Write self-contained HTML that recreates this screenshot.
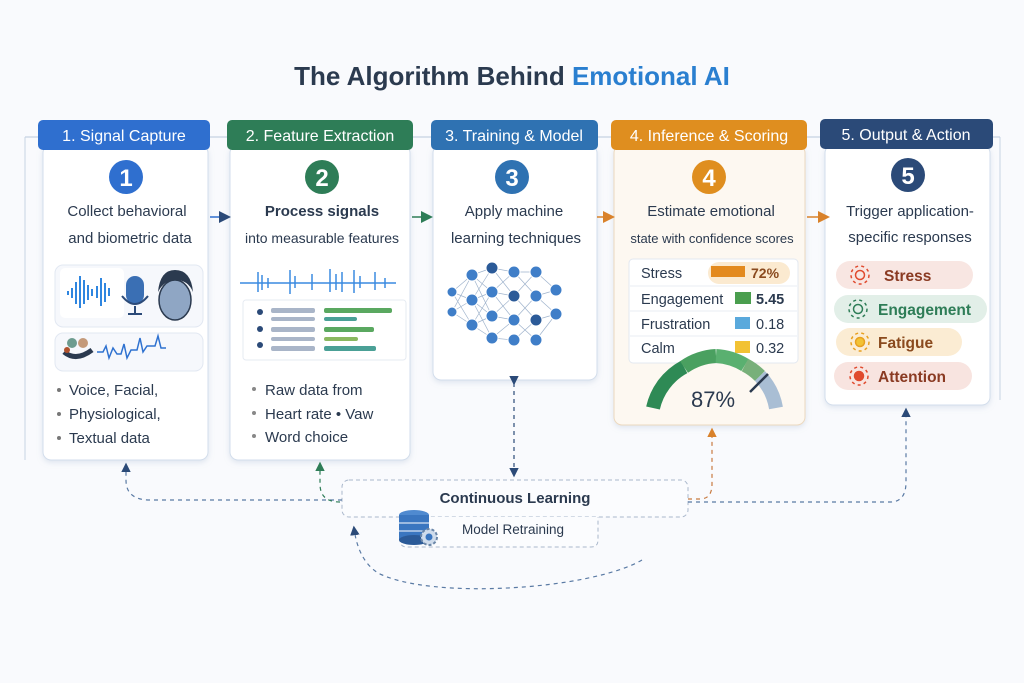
<!DOCTYPE html>
<html><head><meta charset="utf-8"><style>
body{margin:0;background:#f9fafd;}
svg{display:block;font-family:"Liberation Sans","DejaVu Sans",sans-serif;}
</style></head><body>
<svg width="1024" height="683" viewBox="0 0 1024 683" xmlns="http://www.w3.org/2000/svg">
<defs>
<marker id="ab" markerWidth="8" markerHeight="8" refX="6" refY="4" orient="auto"><path d="M0,0 L8,4 L0,8z" fill="#2b4a78"/></marker>
<marker id="ao" markerWidth="8" markerHeight="8" refX="6" refY="4" orient="auto"><path d="M0,0 L8,4 L0,8z" fill="#d9822b"/></marker>
<marker id="ag" markerWidth="8" markerHeight="8" refX="6" refY="4" orient="auto"><path d="M0,0 L8,4 L0,8z" fill="#2e7d57"/></marker>
<filter id="sh" x="-10%" y="-10%" width="120%" height="120%"><feDropShadow dx="0" dy="2" stdDeviation="3" flood-color="#8aa0c0" flood-opacity="0.25"/></filter>
</defs>
<rect width="1024" height="683" fill="#f9fafd"/>
<text x="512" y="85" text-anchor="middle" font-size="26" font-weight="bold" fill="#2b3a4f">The Algorithm Behind <tspan fill="#2a7fd0">Emotional AI</tspan></text>
<line x1="25" y1="137" x2="1000" y2="137" stroke="#b9c8dc" stroke-width="1"/>
<line x1="25" y1="137" x2="25" y2="460" stroke="#c8d4e4" stroke-width="1"/>
<line x1="1000" y1="137" x2="1000" y2="400" stroke="#c8d4e4" stroke-width="1"/>

<rect x="43" y="145" width="165" height="315" rx="8" fill="#fff" stroke="#d3deec" filter="url(#sh)"/>
<rect x="230" y="145" width="180" height="315" rx="8" fill="#fff" stroke="#d3deec" filter="url(#sh)"/>
<rect x="433" y="145" width="164" height="235" rx="8" fill="#fff" stroke="#d3deec" filter="url(#sh)"/>
<rect x="614" y="145" width="191" height="280" rx="8" fill="#fdf8f1" stroke="#ecd9bf" filter="url(#sh)"/>
<rect x="825" y="145" width="165" height="260" rx="8" fill="#fff" stroke="#d3deec" filter="url(#sh)"/>

<rect x="38" y="120" width="172" height="30" rx="5" fill="#2f6fcf"/>
<text x="124" y="141" text-anchor="middle" font-size="16" fill="#fff">1. Signal Capture</text>
<rect x="227" y="120" width="186" height="30" rx="5" fill="#2e7d57"/>
<text x="320" y="141" text-anchor="middle" font-size="16" fill="#fff">2. Feature Extraction</text>
<rect x="431" y="120" width="167" height="30" rx="5" fill="#2f72b2"/>
<text x="514" y="141" text-anchor="middle" font-size="16" fill="#fff">3. Training &amp; Model</text>
<rect x="611" y="120" width="196" height="30" rx="5" fill="#df8e1f"/>
<text x="709" y="141" text-anchor="middle" font-size="16" fill="#fff">4. Inference &amp; Scoring</text>
<rect x="820" y="119" width="173" height="30" rx="5" fill="#2b4a78"/>
<text x="906" y="140" text-anchor="middle" font-size="16" fill="#fff">5. Output &amp; Action</text>

<circle cx="126" cy="177" r="17" fill="#2f6fcf"/><text x="126" y="186" text-anchor="middle" font-size="24" font-weight="bold" fill="#fff">1</text>
<circle cx="322" cy="177" r="17" fill="#2e7d57"/><text x="322" y="186" text-anchor="middle" font-size="24" font-weight="bold" fill="#fff">2</text>
<circle cx="512" cy="177" r="17" fill="#2f72b2"/><text x="512" y="186" text-anchor="middle" font-size="24" font-weight="bold" fill="#fff">3</text>
<circle cx="709" cy="177" r="17" fill="#df8e1f"/><text x="709" y="186" text-anchor="middle" font-size="24" font-weight="bold" fill="#fff">4</text>
<circle cx="908" cy="175" r="17" fill="#2b4a78"/><text x="908" y="184" text-anchor="middle" font-size="24" font-weight="bold" fill="#fff">5</text>

<g font-size="15" fill="#2b3a4f" text-anchor="middle">
<text x="127" y="216">Collect behavioral</text><text x="130" y="243">and biometric data</text>
<text x="322" y="216" font-weight="bold">Process signals</text><text x="322" y="243" font-size="14">into measurable features</text>
<text x="514" y="216">Apply machine</text><text x="516" y="243">learning techniques</text>
<text x="711" y="216">Estimate emotional</text><text x="712" y="243" font-size="13">state with confidence scores</text>
<text x="910" y="216">Trigger application-</text><text x="910" y="242">specific responses</text>
</g>

<line x1="210" y1="217" x2="228" y2="217" stroke="#2f6fcf" stroke-width="1.5" marker-end="url(#ab)"/>
<line x1="412" y1="217" x2="430" y2="217" stroke="#2e7d57" stroke-width="1.5" marker-end="url(#ag)"/>
<line x1="597" y1="217" x2="612" y2="217" stroke="#d9822b" stroke-width="1.5" marker-end="url(#ao)"/>
<line x1="807" y1="217" x2="827" y2="217" stroke="#d9822b" stroke-width="1.5" marker-end="url(#ao)"/>

<rect x="55" y="265" width="148" height="62" rx="8" fill="#f6f8fc" stroke="#e2e8f2"/>
<rect x="60" y="268" width="64" height="50" rx="5" fill="#fff"/>
<g stroke="#2f86e0" stroke-width="2">
<line x1="68" y1="291" x2="68" y2="295"/><line x1="72" y1="288" x2="72" y2="298"/><line x1="76" y1="282" x2="76" y2="304"/><line x1="80" y1="276" x2="80" y2="308"/><line x1="84" y1="280" x2="84" y2="304"/><line x1="88" y1="285" x2="88" y2="300"/><line x1="92" y1="289" x2="92" y2="296"/><line x1="97" y1="286" x2="97" y2="298"/><line x1="101" y1="278" x2="101" y2="306"/><line x1="105" y1="283" x2="105" y2="302"/><line x1="109" y1="288" x2="109" y2="296"/>
</g>
<rect x="126" y="276" width="18" height="28" rx="9" fill="#3a6fb4"/>
<path d="M122 296 q13 16 26 0 M135 306 v8 M128 314 h14" stroke="#2b4a78" stroke-width="2" fill="none"/>
<ellipse cx="175" cy="300" rx="16" ry="20" fill="#8fa6c4" stroke="#2b3a4f" stroke-width="1.5"/>
<path d="M158 292 q2 -22 17 -22 q16 0 18 22 q-5 -12 -17 -12 q-12 0 -18 12z" fill="#2b3a4f"/>
<rect x="55" y="333" width="148" height="38" rx="8" fill="#f6f8fc" stroke="#e2e8f2"/>
<circle cx="72" cy="343" r="5" fill="#6d9c8f"/><circle cx="83" cy="343" r="5" fill="#c49a7a"/>
<path d="M64 352 q12 10 28 -2" stroke="#2b3a4f" stroke-width="5" fill="none"/>
<circle cx="67" cy="350" r="3" fill="#b0522d"/>
<path d="M97 352 h6 l3 -6 l3 12 l4 -10 l4 6 h4 l3 -10 l3 14 l4 -8 h6 l3 -12 l3 14 l4 -6 h8 l3 -10 l3 12 h5" stroke="#2f72d0" stroke-width="1.5" fill="none"/>
<g font-size="15" fill="#2b3a4f">
<circle cx="59" cy="390" r="2" fill="#777"/><text x="69" y="395">Voice, Facial,</text>
<circle cx="59" cy="414" r="2" fill="#777"/><text x="69" y="419">Physiological,</text>
<circle cx="59" cy="438" r="2" fill="#777"/><text x="69" y="443">Textual data</text>
</g>

<line x1="240" y1="283" x2="396" y2="283" stroke="#3a8ae0" stroke-width="1.5"/>
<g stroke="#3a8ae0" stroke-width="1.5">
<line x1="258" y1="272" x2="258" y2="292"/><line x1="262" y1="275" x2="262" y2="290"/><line x1="268" y1="278" x2="268" y2="288"/><line x1="290" y1="270" x2="290" y2="294"/><line x1="295" y1="276" x2="295" y2="288"/><line x1="312" y1="274" x2="312" y2="290"/><line x1="330" y1="269" x2="330" y2="292"/><line x1="336" y1="274" x2="336" y2="290"/><line x1="342" y1="272" x2="342" y2="292"/><line x1="354" y1="270" x2="354" y2="293"/><line x1="360" y1="276" x2="360" y2="288"/><line x1="375" y1="272" x2="375" y2="290"/><line x1="385" y1="278" x2="385" y2="288"/>
</g>
<rect x="243" y="300" width="163" height="60" rx="3" fill="#fff" stroke="#e6ebf2"/>
<g fill="#2b4a78"><circle cx="260" cy="312" r="3"/><circle cx="260" cy="329" r="3"/><circle cx="260" cy="345" r="3"/></g>
<g fill="#a9b5c8"><rect x="271" y="308" width="44" height="5" rx="2"/><rect x="271" y="317" width="44" height="4" rx="2"/><rect x="271" y="327" width="44" height="5" rx="2"/><rect x="271" y="337" width="44" height="4" rx="2"/><rect x="271" y="346" width="44" height="5" rx="2"/></g>
<g fill="#5aa860"><rect x="324" y="308" width="68" height="5" rx="2"/><rect x="324" y="317" width="33" height="4" rx="2" fill="#4aa096"/><rect x="324" y="327" width="50" height="5" rx="2"/><rect x="324" y="337" width="34" height="4" rx="2" fill="#8ab860"/><rect x="324" y="346" width="52" height="5" rx="2" fill="#4aa096"/></g>
<g font-size="15" fill="#2b3a4f">
<circle cx="254" cy="389" r="2" fill="#888"/><text x="265" y="395">Raw data from</text>
<circle cx="254" cy="413" r="2" fill="#888"/><text x="265" y="419">Heart rate • Vaw</text>
<circle cx="254" cy="436" r="2" fill="#888"/><text x="265" y="442">Word choice</text>
</g>

<g stroke="#9fb3cc" stroke-width="0.7">
<path d="M452 292 L472 275 L452 292 L472 300 L452 292 L472 325 M452 312 L472 275 M452 312 L472 300 M452 312 L472 325 M472 275 L492 268 M472 275 L492 292 M472 275 L492 316 M472 300 L492 268 M472 300 L492 292 M472 300 L492 316 M472 300 L492 338 M472 325 L492 292 M472 325 L492 316 M472 325 L492 338 M492 268 L514 272 M492 268 L514 296 M492 292 L514 272 M492 292 L514 296 M492 292 L514 320 M492 316 L514 296 M492 316 L514 320 M492 338 L514 320 M492 338 L514 340 M514 272 L536 272 M514 272 L536 296 M514 296 L536 272 M514 296 L536 320 M514 320 L536 296 M514 320 L536 340 M514 340 L536 320 M536 272 L556 290 M536 296 L556 290 M536 296 L556 314 M536 320 L556 314 M536 340 L556 314"/>
</g>
<g fill="#3f7ec8" stroke="#fff" stroke-width="1">
<circle cx="452" cy="292" r="5"/><circle cx="452" cy="312" r="5"/>
<circle cx="472" cy="275" r="6"/><circle cx="472" cy="300" r="6"/><circle cx="472" cy="325" r="6"/>
<circle cx="492" cy="268" r="6" fill="#2b5a98"/><circle cx="492" cy="292" r="6"/><circle cx="492" cy="316" r="6"/><circle cx="492" cy="338" r="6"/>
<circle cx="514" cy="272" r="6"/><circle cx="514" cy="296" r="6" fill="#2b5a98"/><circle cx="514" cy="320" r="6"/><circle cx="514" cy="340" r="6"/>
<circle cx="536" cy="272" r="6"/><circle cx="536" cy="296" r="6"/><circle cx="536" cy="320" r="6" fill="#2b5a98"/><circle cx="536" cy="340" r="6"/>
<circle cx="556" cy="290" r="6"/><circle cx="556" cy="314" r="6"/>
</g>

<rect x="629" y="259" width="169" height="104" rx="4" fill="#fff" stroke="#e3e8f0"/>
<rect x="708" y="262" width="82" height="22" rx="11" fill="#fbead0"/>
<g stroke="#e8edf3"><line x1="630" y1="286" x2="797" y2="286"/><line x1="630" y1="311" x2="797" y2="311"/><line x1="630" y1="336" x2="797" y2="336"/></g>
<g font-size="14.5" fill="#2b3a4f">
<text x="641" y="278">Stress</text><text x="641" y="304">Engagement</text><text x="641" y="329">Frustration</text><text x="641" y="353">Calm</text>
</g>
<rect x="711" y="266" width="34" height="11" fill="#e38a1e"/><text x="751" y="278" font-size="14" font-weight="bold" fill="#8a4a1e">72%</text>
<rect x="735" y="292" width="16" height="12" fill="#4a9e4e"/><text x="756" y="304" font-size="14.5" font-weight="bold" fill="#2b3a4f">5.45</text>
<rect x="735" y="317" width="15" height="12" fill="#5aa9dc"/><text x="756" y="329" font-size="14.5" fill="#2b3a4f">0.18</text>
<rect x="735" y="341" width="15" height="12" fill="#f2c234"/><text x="756" y="353" font-size="14.5" fill="#2b3a4f">0.32</text>
<path d="M653 408 A62 62 0 0 1 684 367" stroke="#2e8a55" stroke-width="14" fill="none"/>
<path d="M684 367 A62 62 0 0 1 716 356" stroke="#4aa060" stroke-width="14" fill="none"/>
<path d="M716 356 A62 62 0 0 1 745 365" stroke="#5ab070" stroke-width="14" fill="none"/>
<path d="M745 365 A62 62 0 0 1 760 376" stroke="#78b07a" stroke-width="14" fill="none"/>
<path d="M760 376 A62 62 0 0 1 776 408" stroke="#a9bed4" stroke-width="14" fill="none"/>
<line x1="750" y1="392" x2="768" y2="374" stroke="#2b3a4f" stroke-width="2.5"/>
<text x="713" y="407" text-anchor="middle" font-size="22" fill="#2b3a4f">87%</text>

<rect x="836" y="261" width="137" height="28" rx="14" fill="#f8e6e2"/>
<rect x="834" y="295" width="153" height="28" rx="14" fill="#e2efe8"/>
<rect x="836" y="328" width="126" height="28" rx="14" fill="#fbecd3"/>
<rect x="834" y="362" width="138" height="28" rx="14" fill="#f8e4e0"/>
<g stroke-width="1.5" fill="none">
<circle cx="860" cy="275" r="4.5" stroke="#e04a2e"/><circle cx="858" cy="309" r="4.5" stroke="#2e7d57"/><circle cx="860" cy="342" r="4.5" stroke="#e8a020" fill="#f2c234"/><circle cx="859" cy="376" r="4.5" stroke="#e04a2e" fill="#e04a2e"/>
<g stroke-dasharray="3 3.2">
<circle cx="860" cy="275" r="9" stroke="#e04a2e"/><circle cx="858" cy="309" r="9" stroke="#2e7d57"/><circle cx="860" cy="342" r="9" stroke="#e8a020"/><circle cx="859" cy="376" r="9" stroke="#e04a2e"/>
</g>
</g>
<g font-size="15.5" font-weight="bold">
<text x="884" y="281" fill="#8a3a22">Stress</text>
<text x="878" y="315" fill="#2e7d57">Engagement</text>
<text x="878" y="348" fill="#8a4a1e">Fatigue</text>
<text x="878" y="382" fill="#8a3a22">Attention</text>
</g>

<rect x="342" y="480" width="346" height="37" rx="7" fill="#fbfcfe" stroke="#aab8cc" stroke-dasharray="4 3"/>
<text x="515" y="503" text-anchor="middle" font-size="15" font-weight="bold" fill="#2b3a4f">Continuous Learning</text>
<path d="M400 517 V540 q0 7 7 7 H591 q7 0 7 -7 V517" fill="#fbfcfe" stroke="#aab8cc" stroke-dasharray="4 3"/>
<text x="513" y="534" text-anchor="middle" font-size="13.5" fill="#2b3a4f">Model Retraining</text>
<g>
<ellipse cx="414" cy="515" rx="15" ry="5" fill="#4f8ad0"/>
<rect x="399" y="515" width="30" height="25" fill="#3a76c0"/>
<line x1="399" y1="523" x2="429" y2="523" stroke="#fff"/><line x1="399" y1="531" x2="429" y2="531" stroke="#fff"/>
<ellipse cx="414" cy="540" rx="15" ry="5" fill="#2b5a98"/>
<circle cx="429" cy="537" r="8" fill="#cfdcec" stroke="#6a86a8" stroke-dasharray="3 2" stroke-width="2"/><circle cx="429" cy="537" r="3.5" fill="#3a76c0"/>
</g>

<g fill="none" stroke-dasharray="4 4" stroke-width="1.2">
<path d="M342 500 H150 q-24 0 -24 -20 V465" stroke="#5a7aa4" marker-end="url(#ab)"/>
<path d="M340 502 q-20 0 -20 -18 V464" stroke="#2e7d57" marker-end="url(#ag)"/>
<path d="M514 383 V475" stroke="#2b4a78" marker-start="url(#ab)" marker-end="url(#ab)"/>
<path d="M688 499 H700 q12 0 12 -15 V430" stroke="#c87a40" marker-end="url(#ao)"/>
<path d="M688 502 H890 q16 0 16 -20 V410" stroke="#5a7aa4" marker-end="url(#ab)"/>
<path d="M642 560 C590 590 430 600 378 573 Q358 560 354 528" stroke="#5a7aa4" marker-end="url(#ab)"/>
</g>
</svg>
</body></html>
